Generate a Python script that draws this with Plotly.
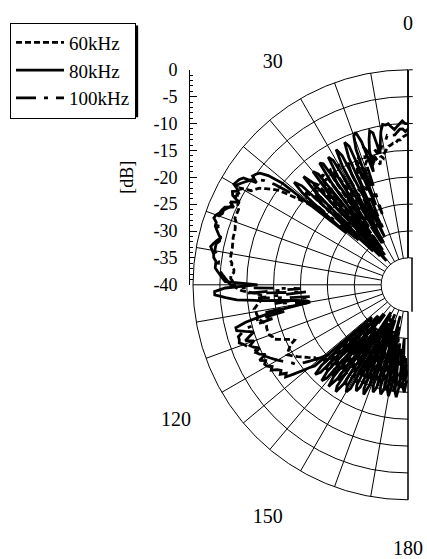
import plotly.graph_objects as go

# angle grid (degrees) and measured levels (dB)
ANGLES = list(range(0, 181))

SPL_60K = [
    -12, -12.2, -12.5, -13, -13, -13.5, -13.5, -13.8, -14, -14.5,
    -15, -16, -15.5, -17, -16, -15, -17, -16, -15.5, -16,
    -16.5, -18, -15.5, -15.4, -17, -19, -21, -23, -25, -27,
    -28.5, -25, -20, -15, -14, -16, -30, -15, -14, -15,
    -17, -31, -15, -14, -16, -15, -28, -16, -14, -15,
    -18, -16, -14, -12, -10, -9, -8, -7, -6.5, -6,
    -4, -4.5, -4, -4.5, -5, -5, -5.5, -5.5, -5.5, -5.5,
    -6, -6, -6.2, -6.3, -6.3, -6.3, -6.5, -6.5, -6.6, -6.6,
    -6.6, -6.6, -6.6, -7, -7, -7.5, -7.5, -7, -7, -7.5,
    -7.7, -8, -9, -11, -12.7, -12, -12.5, -12, -11.5, -11,
    -11.3, -11.3, -11.5, -11.5, -12, -12.5, -12.6, -12.5, -12.5, -12.6,
    -12.6, -13, -13, -14, -15, -16, -16.5, -15.5, -15, -14.5,
    -14, -14.5, -15, -15.5, -16, -16.5, -17, -17.5, -18, -18,
    -19, -20, -19, -21, -20, -29, -20, -19, -21, -20,
    -20, -31, -20, -21, -20, -21, -21, -30, -21, -20,
    -21, -22, -21, -33, -21, -22, -21, -22, -21, -30,
    -22, -21, -22, -22, -21, -31, -22, -21, -22, -22,
    -21, -28, -22, -21, -22, -21, -22, -27, -21, -24, -23,
]

SPL_80K = [
    -10, -10, -9.5, -10, -10.5, -11, -10.5, -9.8, -10, -9.8,
    -11, -13, -15, -11, -10.5, -12, -14, -18, -12, -10,
    -10.5, -13, -24, -12, -11, -14, -30, -13, -11.5, -15,
    -31, -13, -12, -16, -27, -12.5, -12, -17, -33, -13.5,
    -12.5, -18, -34, -14, -12, -16, -31, -13, -11.5, -14,
    -25, -10, -7, -5.5, -5, -4.7, -6, -3.5, -3, -2.8,
    -2.6, -4, -3, -3.4, -5, -3.5, -4.5, -3, -2.7, -2.5,
    -2, -1.8, -2.5, -2.5, -3, -3.5, -4, -3.5, -3, -2.6,
    -3, -3.4, -3.5, -4, -4, -4, -4.5, -5, -5.5, -6,
    -12, -6, -4, -4, -6, -8, -12, -16, -19, -21,
    -21.5, -16, -12.4, -9, -7, -7, -8.5, -10, -9, -8,
    -9.5, -8.5, -9, -10, -9, -9.5, -10.5, -9, -10, -9.5,
    -9.7, -10.5, -10, -11, -11.5, -11, -12, -11.5, -13, -14.5,
    -16, -17, -31, -18, -16, -17, -32, -18, -16, -17,
    -33, -18, -16, -18, -30, -17, -16, -18, -34, -18,
    -17, -18, -32, -19, -18, -19, -34, -19, -18, -20,
    -33, -20, -19, -20, -30, -20, -19, -20, -32, -20,
    -19, -21, -29, -20, -19, -21, -30, -21, -20, -22, -22,
]

SPL_100K = [
    -11, -11.5, -11, -11, -11.5, -12, -12, -12.5, -12, -13,
    -13, -14, -13.5, -15, -14, -17, -15, -14, -13, -16,
    -26, -15, -14, -16, -29, -15, -14, -17, -28, -15,
    -14, -17, -31, -16, -15, -17, -32, -16, -15, -18,
    -30, -17, -16, -18, -33, -17, -16, -19, -28, -18,
    -17, -15, -12, -9, -7, -6, -5, -4.5, -4, -3.5,
    -3, -3.5, -3.5, -4, -4.5, -4, -4, -3.5, -3, -3,
    -2.5, -2.5, -3, -3, -3.5, -4, -4, -4, -3.5, -3.5,
    -3.5, -4, -4, -4.5, -4.5, -4.5, -5, -5.5, -6, -6.5,
    -7, -9, -20, -10, -21, -12, -17, -22, -15, -19,
    -21, -13, -17, -11, -14, -9, -8, -7, -7, -6.8,
    -7.5, -8, -8.5, -9, -9.5, -10, -10, -10.5, -11, -11.5,
    -12, -12.5, -13, -13.5, -14, -14.3, -15, -16, -17, -18,
    -19, -20, -18, -19, -31, -19, -18, -20, -32, -19,
    -18, -20, -33, -19, -18, -20, -30, -19, -18, -20,
    -34, -20, -19, -21, -31, -20, -19, -21, -33, -20,
    -20, -21, -31, -21, -20, -21, -34, -21, -20, -21,
    -30, -21, -20, -22, -28, -21, -21, -22, -27, -23, -24,
]

SERIES_NAMES = ["60kHz", "80kHz", "100kHz"]
DB_TICKS = [-40, -35, -30, -25, -20, -15, -10, -5, 0]
ANGLE_GRID = list(range(0, 190, 10))
ANGLE_LABELS = {0: "0", 30: "30", 120: "120", 150: "150", 180: "180"}

W, H = 427, 559
CX, CY, R = 412, 285, 223
HOLE = 0.125
FONT = "Liberation Serif"

# legend geometry (plotly vertical legend: item h = 1.3*font + 3, end pad 2*(bw+5);
# width = widest text + itemwidth + 10 + 5 + 2*bw); "100kHz" is 3.166 em wide in Times metrics
LEG_X, LEG_Y, LEG_FONT, LEG_ITEM = 10, 13, 19, 48
LEG_W = 3.166 * LEG_FONT + LEG_ITEM + 10 + 5 + 2
LEG_H = 3 * (1.3 * LEG_FONT + 3) + 12
SHADOW = 3

fig = go.Figure()

styles = ["6px,3px", "solid", "20px,8px,4px,8px"]
for name, vals, dash in zip(SERIES_NAMES, [SPL_60K, SPL_80K, SPL_100K], styles):
    fig.add_trace(go.Scatterpolar(
        r=vals, theta=ANGLES, mode="lines", name=name,
        line=dict(color="black", width=2.8, dash=dash),
    ))

# helper (invisible) trace so the cartesian dB scale is drawn
fig.add_trace(go.Scatter(x=[0.5], y=[-20], mode="markers", marker=dict(opacity=0),
                         showlegend=False, hoverinfo="skip"))

fig.update_layout(
    width=W, height=H,
    margin=dict(l=0, r=0, t=0, b=0),
    paper_bgcolor="white", plot_bgcolor="rgba(0,0,0,0)",
    font=dict(family=FONT, color="black"),
    polar=dict(
        domain=dict(x=[(CX - R) / W, CX / W], y=[(H - CY - R) / H, (H - CY + R) / H]),
        sector=[90, 270],
        hole=HOLE,
        bgcolor="white",
        radialaxis=dict(
            range=[-35, 0], tickvals=DB_TICKS[1:], showticklabels=False,
            ticks="outside", ticklen=4, tickcolor="black",
            showgrid=True, gridcolor="black", gridwidth=1,
            showline=True, linecolor="black", linewidth=1.5, angle=90,
        ),
        angularaxis=dict(
            rotation=90, direction="counterclockwise",
            tickmode="array", tickvals=ANGLE_GRID,
            ticktext=[ANGLE_LABELS.get(a, "") for a in ANGLE_GRID],
            showgrid=True, gridcolor="black", gridwidth=1,
            showline=True, linecolor="black", linewidth=1,
            ticks="outside", ticklen=31, tickcolor="rgba(0,0,0,0)",
            tickfont=dict(family=FONT, size=20, color="black"),
        ),
    ),
    xaxis=dict(visible=False, domain=[0, 1], range=[0, 1], fixedrange=True),
    yaxis=dict(
        domain=[(H - CY) / H, (H - CY + R) / H], anchor="free", position=(CX - R) / W,
        range=[-40, 0], tickmode="array", tickvals=DB_TICKS,
        ticktext=[str(v) for v in DB_TICKS],
        ticks="inside", ticklen=7, tickcolor="black",
        minor=dict(ticks="inside", ticklen=3, dtick=1, tickcolor="black"),
        showline=True, linecolor="black", linewidth=1,
        showgrid=False, zeroline=False, ticklabelstandoff=8,
        tickfont=dict(family=FONT, size=18, color="black"),
        title=dict(text="[dB]", font=dict(family=FONT, size=18, color="black"), standoff=14),
    ),
    showlegend=True,
    legend=dict(
        x=LEG_X / W, y=1 - LEG_Y / H, xanchor="left", yanchor="top",
        bgcolor="white", bordercolor="black", borderwidth=1,
        font=dict(family=FONT, size=LEG_FONT, color="black"),
        tracegroupgap=0, itemwidth=LEG_ITEM,
    ),
    shapes=[
        dict(type="line", xref="paper", yref="paper",
             x0=CX / W, x1=CX / W, y0=(H - CY - R * HOLE) / H, y1=(H - CY + R * HOLE) / H,
             line=dict(color="black", width=1.5), layer="above"),
        dict(type="rect", xref="paper", yref="paper",
             x0=(LEG_X + SHADOW) / W, x1=(LEG_X + LEG_W + SHADOW) / W,
             y0=1 - (LEG_Y + LEG_H + SHADOW) / H, y1=1 - (LEG_Y + SHADOW) / H,
             fillcolor="black", line=dict(width=0), layer="above"),
    ],
)

fig.write_html("out.html")
